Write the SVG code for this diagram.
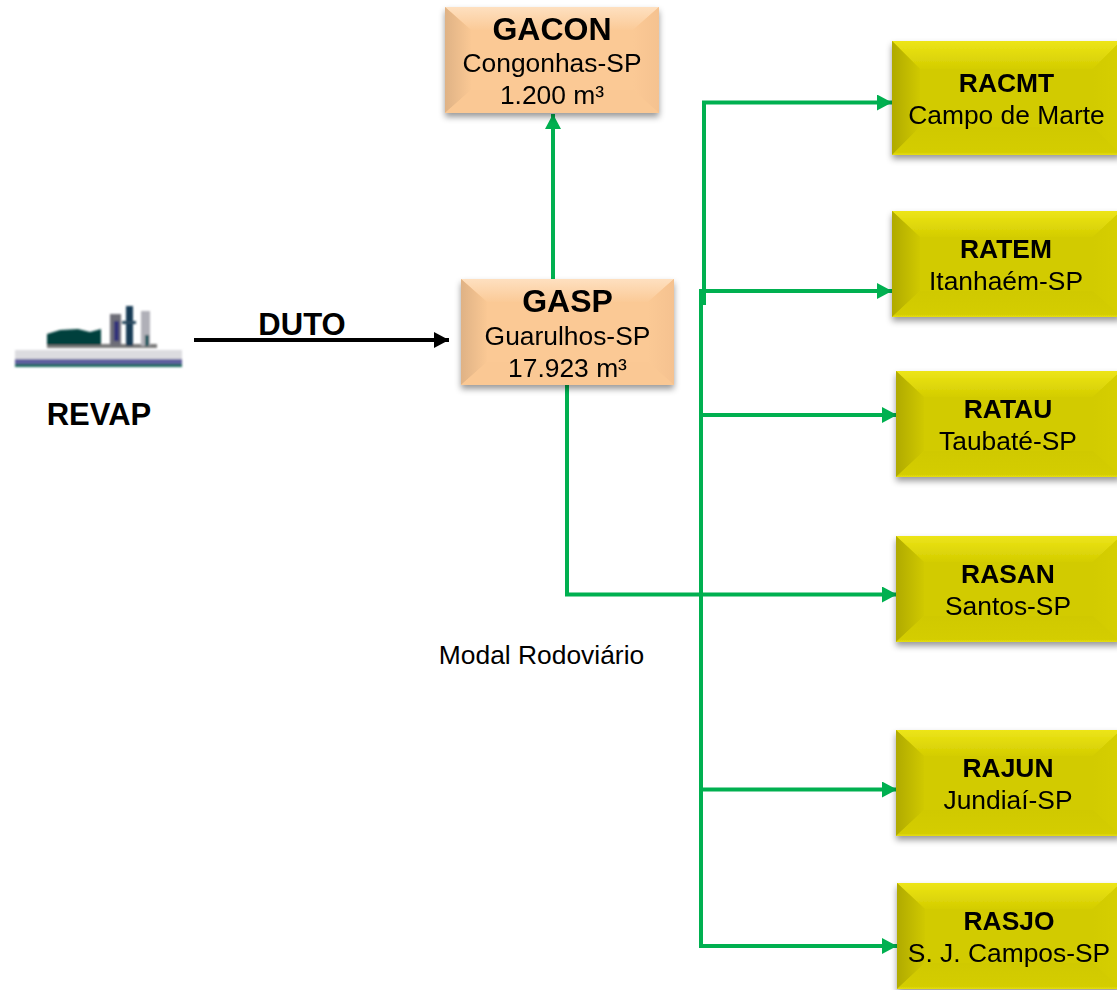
<svg xmlns="http://www.w3.org/2000/svg" width="1117" height="990" viewBox="0 0 1117 990">
<style>
text{font-family:"Liberation Sans",Arial,sans-serif;fill:#000;text-anchor:middle}
.t{font-weight:700;font-size:32px}
.y{font-weight:700;font-size:26.4px}
.s{font-size:26.4px}
.l{font-weight:700;font-size:31px}
.g{fill:none;stroke:#00B050;stroke-width:4}
.oc{fill:#FBC995}.ot{fill:url(#ot)}.ol{fill:url(#ol)}.or{fill:url(#or)}.ob{fill:#FAC894}
.yc{fill:#D2CB00}.yt{fill:url(#yt)}.yl{fill:url(#yl)}.yr{fill:url(#yr)}.yb{fill:url(#yb)}
</style>
<defs>
<linearGradient id="ot" x1="0" y1="0" x2="0" y2="1"><stop offset="0" stop-color="#FEE0C0"/><stop offset="1" stop-color="#FBCA97"/></linearGradient>
<linearGradient id="ol" x1="0" y1="0" x2="1" y2="0"><stop offset="0" stop-color="#DFB285"/><stop offset="1" stop-color="#FAC894"/></linearGradient>
<linearGradient id="or" x1="0" y1="0" x2="1" y2="0"><stop offset="0" stop-color="#FBC995"/><stop offset="1" stop-color="#F5C290"/></linearGradient>
<linearGradient id="yt" x1="0" y1="0" x2="0" y2="1"><stop offset="0" stop-color="#EDE518"/><stop offset="1" stop-color="#D4CD00"/></linearGradient>
<linearGradient id="yl" x1="0" y1="0" x2="1" y2="0"><stop offset="0" stop-color="#B0AA00"/><stop offset="1" stop-color="#D0C900"/></linearGradient>
<linearGradient id="yr" x1="0" y1="0" x2="1" y2="0"><stop offset="0" stop-color="#D2CB00"/><stop offset="1" stop-color="#D6CF00"/></linearGradient>
<linearGradient id="yb" x1="0" y1="0" x2="0" y2="1"><stop offset="0" stop-color="#D0C900"/><stop offset="0.9" stop-color="#D4CD00"/><stop offset="1" stop-color="#E6DE10"/></linearGradient>
<filter id="sh" x="-10%" y="-10%" width="120%" height="125%"><feDropShadow dx="0" dy="4" stdDeviation="3" flood-color="#000" flood-opacity="0.4"/></filter>
<filter id="bl" x="-5%" y="-5%" width="110%" height="110%"><feGaussianBlur stdDeviation="0.9"/></filter>
<marker id="ag" markerUnits="userSpaceOnUse" markerWidth="16" markerHeight="16" refX="15" refY="8" orient="auto"><path d="M0 0L15 8L0 16z" fill="#00B050"/></marker>
<marker id="ak" markerUnits="userSpaceOnUse" markerWidth="16" markerHeight="16" refX="15" refY="8" orient="auto"><path d="M0 0L15 8L0 16z" fill="#000"/></marker>
</defs>

<g id="connectors">
<path class="g" d="M553 279V114" marker-end="url(#ag)"/>
<path class="g" d="M567 385V594.5H897" marker-end="url(#ag)"/>
<path class="g" d="M704 305V102.500H892" marker-end="url(#ag)"/>
<path class="g" d="M701 291H892" marker-end="url(#ag)"/>
<path class="g" d="M701 415H897" marker-end="url(#ag)"/>
<path class="g" d="M701 789.500H897" marker-end="url(#ag)"/>
<path class="g" d="M701 289V946H897" marker-end="url(#ag)"/>
<path d="M194 340H449" fill="none" stroke="#000" stroke-width="4" marker-end="url(#ak)"/>
</g>

<g id="REVAP">
<g filter="url(#bl)">
<rect x="15" y="350" width="167" height="9" fill="#DCDCE0"/>
<rect x="15" y="359" width="167" height="5" fill="#5F5F9F"/>
<rect x="15" y="364" width="167" height="3" fill="#1F6A60"/>
<rect x="47" y="344" width="110" height="4" fill="#7A7A7A"/>
<path d="M47 345V334L60 330L78 329L90 332L101 329V345z" fill="#063F3C"/>
<rect x="110" y="314" width="11" height="32" fill="#6E6E78"/>
<rect x="114" y="321" width="5" height="20" fill="#33337A"/>
<rect x="126" y="306" width="7" height="40" fill="#123A55"/>
<rect x="122" y="321" width="14" height="3" fill="#2A4A60"/>
<rect x="141" y="311" width="9" height="35" fill="#B0B0B8"/>
<rect x="145" y="335" width="4" height="11" fill="#1F5A60"/>
</g>
<text class="l" x="99" y="425">REVAP</text>
</g>
<text class="l" x="302" y="335">DUTO</text>
<text class="s" x="541.5" y="664">Modal Rodoviário</text>

<g id="GACON" filter="url(#sh)">
<polygon class="oc" points="445,7 659,7 659,113 445,113"/>
<polygon class="ot" points="445,7 659,7 633,30 471,30"/>
<polygon class="ol" points="445,7 471,30 471,90 445,113"/>
<polygon class="or" points="659,7 633,30 633,90 659,113"/>
<polygon class="ob" points="445,113 471,90 633,90 659,113"/>
<text class="t" x="552" y="40">GACON</text><text class="s" x="552" y="72">Congonhas-SP</text><text class="s" x="552" y="104">1.200 m³</text>
</g>
<g id="GASP" filter="url(#sh)">
<polygon class="oc" points="461,279 674,279 674,385 461,385"/>
<polygon class="ot" points="461,279 674,279 648,302 487,302"/>
<polygon class="ol" points="461,279 487,302 487,362 461,385"/>
<polygon class="or" points="674,279 648,302 648,362 674,385"/>
<polygon class="ob" points="461,385 487,362 648,362 674,385"/>
<text class="t" x="567.500" y="312">GASP</text><text class="s" x="567.500" y="345">Guarulhos-SP</text><text class="s" x="567.500" y="377">17.923 m³</text>
</g>
<g id="RACMT" filter="url(#sh)">
<polygon class="yc" points="892,41 1121,41 1121,155 892,155"/>
<polygon class="yt" points="892,41 1121,41 1093,69 920,69"/>
<polygon class="yl" points="892,41 920,69 920,127 892,155"/>
<polygon class="yr" points="1121,41 1093,69 1093,127 1121,155"/>
<polygon class="yb" points="892,155 920,127 1093,127 1121,155"/>
<text class="y" x="1006.500" y="92">RACMT</text><text class="s" x="1006.500" y="124">Campo de Marte</text>
</g>
<g id="RATEM" filter="url(#sh)">
<polygon class="yc" points="892,211 1121,211 1121,317 892,317"/>
<polygon class="yt" points="892,211 1121,211 1093,237 920,237"/>
<polygon class="yl" points="892,211 920,237 920,291 892,317"/>
<polygon class="yr" points="1121,211 1093,237 1093,291 1121,317"/>
<polygon class="yb" points="892,317 920,291 1093,291 1121,317"/>
<text class="y" x="1006" y="258">RATEM</text><text class="s" x="1006" y="290">Itanhaém-SP</text>
</g>
<g id="RATAU" filter="url(#sh)">
<polygon class="yc" points="896,371 1121,371 1121,477 896,477"/>
<polygon class="yt" points="896,371 1121,371 1093,397 924,397"/>
<polygon class="yl" points="896,371 924,397 924,451 896,477"/>
<polygon class="yr" points="1121,371 1093,397 1093,451 1121,477"/>
<polygon class="yb" points="896,477 924,451 1093,451 1121,477"/>
<text class="y" x="1008" y="418">RATAU</text><text class="s" x="1008" y="450">Taubaté-SP</text>
</g>
<g id="RASAN" filter="url(#sh)">
<polygon class="yc" points="896,536 1121,536 1121,642 896,642"/>
<polygon class="yt" points="896,536 1121,536 1093,562 924,562"/>
<polygon class="yl" points="896,536 924,562 924,616 896,642"/>
<polygon class="yr" points="1121,536 1093,562 1093,616 1121,642"/>
<polygon class="yb" points="896,642 924,616 1093,616 1121,642"/>
<text class="y" x="1008" y="583">RASAN</text><text class="s" x="1008" y="615">Santos-SP</text>
</g>
<g id="RAJUN" filter="url(#sh)">
<polygon class="yc" points="896,730 1121,730 1121,836 896,836"/>
<polygon class="yt" points="896,730 1121,730 1093,756 924,756"/>
<polygon class="yl" points="896,730 924,756 924,810 896,836"/>
<polygon class="yr" points="1121,730 1093,756 1093,810 1121,836"/>
<polygon class="yb" points="896,836 924,810 1093,810 1121,836"/>
<text class="y" x="1008" y="777">RAJUN</text><text class="s" x="1008" y="809">Jundiaí-SP</text>
</g>
<g id="RASJO" filter="url(#sh)">
<polygon class="yc" points="897,883 1121,883 1121,989 897,989"/>
<polygon class="yt" points="897,883 1121,883 1093,909 925,909"/>
<polygon class="yl" points="897,883 925,909 925,963 897,989"/>
<polygon class="yr" points="1121,883 1093,909 1093,963 1121,989"/>
<polygon class="yb" points="897,989 925,963 1093,963 1121,989"/>
<text class="y" x="1009" y="930">RASJO</text><text class="s" x="1009" y="962">S. J. Campos-SP</text>
</g>
</svg>
